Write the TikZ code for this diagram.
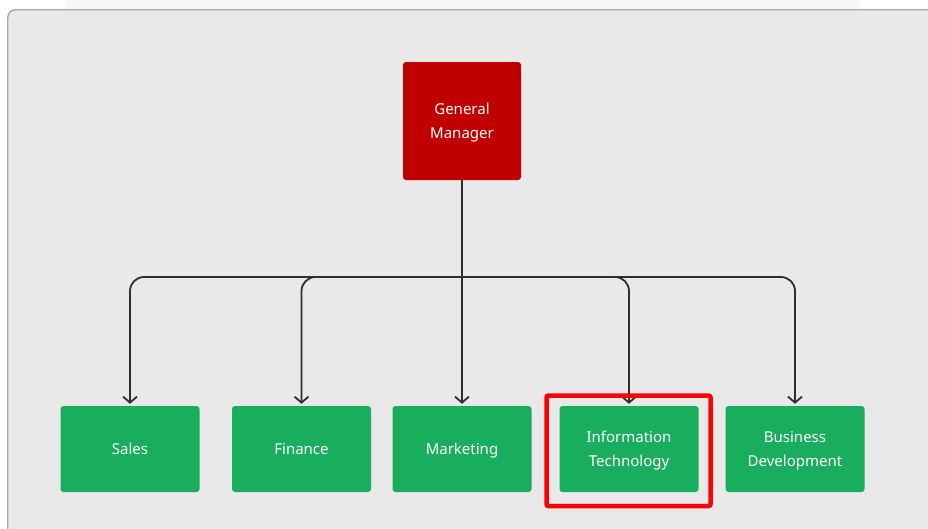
\documentclass[tikz,border=0pt]{standalone}
\usepackage{fontspec}
\setmainfont{Noto Sans}
\usetikzlibrary{arrows.meta}
\definecolor{panelgray}{HTML}{E9E9E9}
\definecolor{bordergray}{HTML}{A8A8A8}
\definecolor{topstrip}{HTML}{F6F7F9}
\definecolor{gmred}{HTML}{C00000}
\definecolor{deptgreen}{HTML}{19AE5D}
\definecolor{hilite}{HTML}{FF0000}
\definecolor{linedark}{HTML}{2E2E2E}
\tikzset{
  box/.style={draw=none, rounded corners=3pt, text=white, align=center,
    font=\fontsize{15}{24}\selectfont, inner sep=0pt},
  gmbox/.style={box, fill=gmred, minimum width=118pt, minimum height=118pt},
  deptbox/.style={box, fill=deptgreen, minimum width=139pt, minimum height=86pt},
  oneline/.style={text height=14pt, text depth=3.3pt},
  twoline/.style={text height=35pt, text depth=0pt},
  conn/.style={draw=linedark, line width=1.8pt, rounded corners=14pt,
    -{Straight Barb[length=6pt,width=14pt,line width=1.8pt]}, shorten >=2pt},
}
\begin{document}
\begin{tikzpicture}[x=1pt,y=-1pt]
\useasboundingbox (0,0) rectangle (928,528);
\clip (0,0) rectangle (928,528);
\fill[white] (0,0) rectangle (928,528);
\fill[topstrip] (65,0) rectangle (860,9);
\draw[fill=panelgray, draw=bordergray, line width=1.4pt, rounded corners=8pt]
  (7.7,9.7) rectangle (945,545);

\node[gmbox, twoline] (gm) at (462,121) {General\\Manager};
\node[deptbox, oneline] (sales) at (130,449) {Sales};
\node[deptbox, oneline] (fin) at (301.5,449) {Finance};
\node[deptbox, oneline] (mkt) at (462,449) {Marketing};
\node[deptbox, twoline] (it) at (629,449) {Information\\Technology};
\node[deptbox, twoline] (bd) at (795,449) {Business\\Development};

\coordinate (junc) at (462,277);

\draw[conn] (gm.south) -- (mkt.north);
\draw[conn] (junc) -| (sales.north);
\draw[conn] (junc) -| (fin.north);
\draw[conn] (junc) -| (it.north);
\draw[conn] (junc) -| (bd.north);

\draw[draw=hilite, line width=4.5pt, rounded corners=2pt]
  (546.5,395.5) rectangle (710.5,506);
\end{tikzpicture}
\end{document}
